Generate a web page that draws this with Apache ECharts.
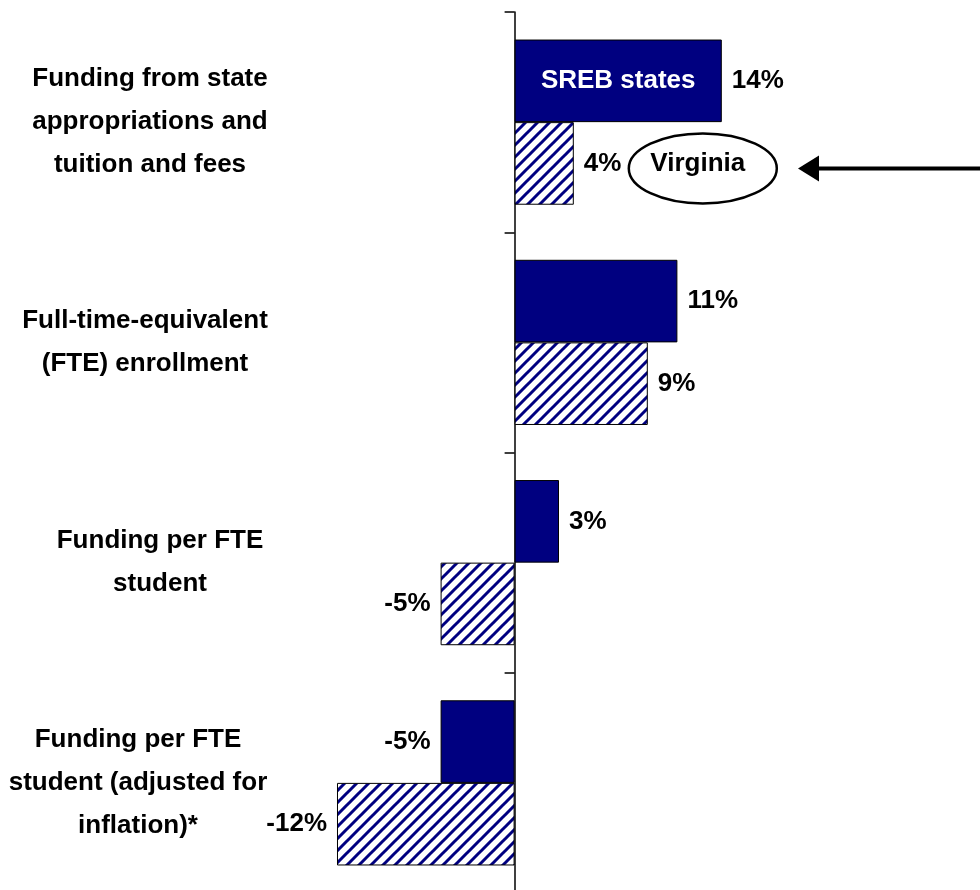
<!DOCTYPE html>
<html>
<head>
<meta charset="utf-8">
<script src="https://cdn.jsdelivr.net/npm/echarts@6/dist/echarts.min.js"></script>
<style>
  html, body { margin: 0; padding: 0; background: #fff; }
  #chart { width: 980px; height: 890px; }
</style>
</head>
<body>
<div id="chart"></div>
<script>
const categories = [
  "Funding from state\nappropriations and\ntuition and fees",
  "Full-time-equivalent\n(FTE) enrollment",
  "Funding per FTE\nstudent",
  "Funding per FTE\nstudent (adjusted for\ninflation)*"
];
const srebValues = [14, 11, 3, -5];
const virginiaValues = [4, 9, -5, -12];

const NAVY = "#000080";
const FONT = "'Liberation Sans', Arial, sans-serif";

// diagonal hatch tile for the Virginia bars
function hatchPattern() {
  const s = 12;
  const c = document.createElement("canvas");
  c.width = s;
  c.height = s;
  const ctx = c.getContext("2d");
  ctx.fillStyle = "#fff";
  ctx.fillRect(0, 0, s, s);
  ctx.strokeStyle = NAVY;
  ctx.lineWidth = 3;
  ctx.beginPath();
  ctx.moveTo(-1, s + 1); ctx.lineTo(s + 1, -1);
  ctx.moveTo(-1, 1); ctx.lineTo(1, -1);
  ctx.moveTo(s - 1, s + 1); ctx.lineTo(s + 1, s - 1);
  ctx.stroke();
  return c;
}

function toItems(values) {
  return values.map(v => ({
    value: v,
    label: { position: v < 0 ? "left" : "right" }
  }));
}

const chart = echarts.init(document.getElementById("chart"));

const valueLabel = {
  show: true,
  formatter: "{c}%",
  distance: 10,
  color: "#000",
  fontSize: 26,
  fontWeight: "bold",
  fontFamily: FONT
};

// category label boxes (right-anchored), width sets where the lines centre
const boxWidths = [256, 266, 236, 280];
const richStyles = {};
boxWidths.forEach((w, i) => {
  richStyles["c" + i] = {
    width: w,
    align: "center",
    color: "#000",
    fontSize: 26,
    fontWeight: "bold",
    fontFamily: FONT,
    lineHeight: 43
  };
});

chart.setOption({
  animation: false,
  backgroundColor: "#fff",
  grid: { left: 300, width: 510.6, top: 12, height: 881, outerBoundsMode: "none" },
  xAxis: {
    type: "value",
    min: -14.5,
    max: 20,
    show: false
  },
  yAxis: {
    type: "category",
    inverse: true,
    data: categories,
    axisLine: { show: true, lineStyle: { color: "#000", width: 1.5 } },
    axisTick: { show: true, length: 10, lineStyle: { color: "#000", width: 1.5 } },
    axisLabel: {
      show: true,
      interval: 0,
      margin: 22,
      align: "right",
      formatter: (v, i) => v.split("\n").map(l => "{c" + i + "|" + l + "}").join("\n"),
      rich: richStyles
    }
  },
  series: [
    {
      name: "SREB states",
      type: "bar",
      barGap: "0%",
      barCategoryGap: "25%",
      data: toItems(srebValues),
      itemStyle: { color: NAVY, borderColor: "#000", borderWidth: 1 },
      label: valueLabel
    },
    {
      name: "Virginia",
      type: "bar",
      data: toItems(virginiaValues),
      itemStyle: {
        color: { image: hatchPattern(), repeat: "repeat" },
        borderColor: "#000",
        borderWidth: 1
      },
      label: valueLabel
    }
  ]
});

// annotations placed from the first category's bars
const band = 881 / categories.length;
const half = band * 0.75 / 4;
const zero = chart.convertToPixel({ gridIndex: 0 }, [0, 0]);
const srebEnd = chart.convertToPixel({ gridIndex: 0 }, [srebValues[0], 0]);
const vaEnd = chart.convertToPixel({ gridIndex: 0 }, [virginiaValues[0], 0]);
const srebY = zero[1] - half;
const vaY = zero[1] + half;
const ellCx = vaEnd[0] + 129;

chart.setOption({
  graphic: [
    {
      type: "text",
      z: 100,
      style: {
        text: "SREB states",
        x: (zero[0] + srebEnd[0]) / 2,
        y: srebY,
        textAlign: "center",
        textVerticalAlign: "middle",
        fill: "#fff",
        font: "bold 26px " + FONT
      }
    },
    {
      type: "ellipse",
      z: 100,
      shape: { cx: ellCx, cy: vaY + 5, rx: 74, ry: 35 },
      style: { fill: "none", stroke: "#000", lineWidth: 2.5 }
    },
    {
      type: "text",
      z: 100,
      style: {
        text: "Virginia",
        x: ellCx - 5,
        y: vaY,
        textAlign: "center",
        textVerticalAlign: "middle",
        fill: "#000",
        font: "bold 26px " + FONT
      }
    },
    {
      type: "line",
      z: 100,
      shape: { x1: 815, y1: vaY + 5, x2: 980, y2: vaY + 5 },
      style: { stroke: "#000", lineWidth: 4 }
    },
    {
      type: "polygon",
      z: 100,
      shape: { points: [[798, vaY + 5], [819, vaY - 8], [819, vaY + 18]] },
      style: { fill: "#000" }
    }
  ]
});
</script>
</body>
</html>
